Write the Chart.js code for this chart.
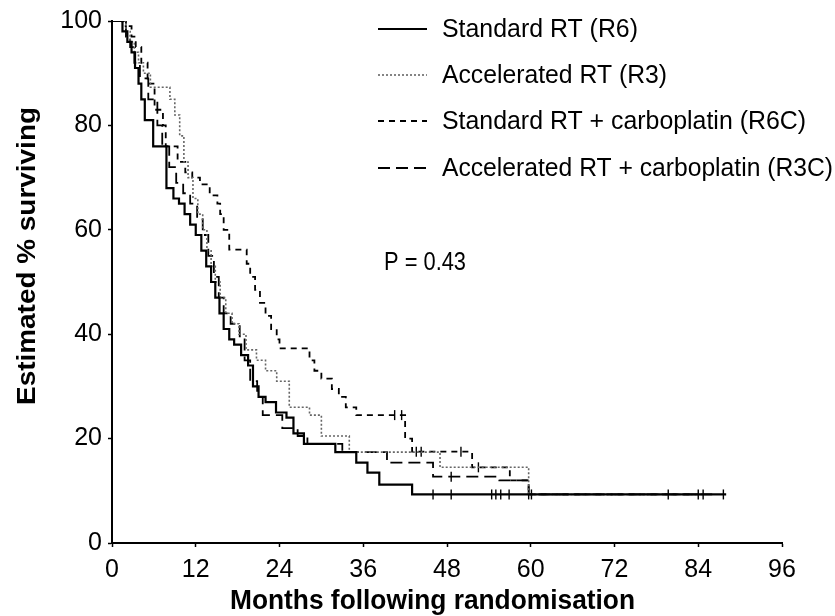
<!DOCTYPE html>
<html>
<head>
<meta charset="utf-8">
<script src="https://cdn.jsdelivr.net/npm/chart.js@4.4.1/dist/chart.umd.min.js"></script>
<style>
  body { margin: 0; background: #fff; }
  canvas { display: block; }
</style>
</head>
<body>
<canvas id="myChart" width="835" height="616"></canvas>
<script>
// Kaplan-Meier steps: [month, % surviving after the drop]
var r6Steps = [[0,100],[1.5,98],[2.2,96],[2.8,94],[3.3,91],[3.8,88],[4.2,85],[4.7,81],[5.9,76],[7.8,68],[8.8,66],[9.6,65],[10.4,63],[11.2,61],[12,59],[12.8,56],[13.5,53],[14.2,50],[14.8,47],[15.4,44],[16,41],[16.8,39],[17.5,38],[18.5,36],[19.5,34],[20.2,30],[21,28],[22,27],[23.5,25],[25,24],[26,21],[27.5,19],[32,17.4],[35,15.4],[36.6,13.5],[38.3,11.2],[43,9.3],[88,9.3]];
var r3Steps = [[0,100],[2,98],[2.6,96],[3.2,94],[3.8,92],[4.5,90],[5.5,87.3],[8.3,85],[9,82],[9.7,78],[10.3,73],[10.9,70],[11.6,66],[12.3,63],[13,60],[13.6,56],[14.2,53],[14.8,50],[15.5,47],[16.3,44],[17.2,42],[18.2,40],[19.2,37],[20.7,35],[22,33],[23.6,31],[25.4,26],[28.3,24.5],[30,20.5],[34,17.4],[47,14.5],[59.7,9.3],[84.7,9.3]];
var r6cSteps = [[0,100],[2,99],[2.8,97],[3.4,95],[4.2,92],[5.1,88],[6.1,83],[7.3,80],[7.7,76],[9.4,73],[10.5,71],[11.5,70],[12.6,68.7],[14,66.6],[15.1,65],[15.5,63],[16,60],[16.8,56.2],[19.3,53.5],[19.8,51],[20.5,48.5],[21.2,46],[22,43.5],[22.8,41],[23.6,39],[24,37.3],[28.3,35],[29,33],[30,31.5],[31.5,29.5],[32.5,28],[33.5,26],[35,24.5],[42,20],[43,17.5],[51.6,14.5],[57,12],[59.7,9.3],[84,9.3]];
var r3cSteps = [[0,100],[1.5,99],[2,97],[2.6,95],[3.2,92],[4,89],[5.2,85],[6.5,80],[7.2,76],[8.2,72],[9.2,69],[10.2,67],[11.2,65],[12.2,62],[13,59],[13.8,55],[14.6,51],[15.3,47],[16,44],[17,42],[18.3,39.6],[19,35],[19.8,31],[20.8,28],[21.6,24.5],[24.4,22],[26.6,20.5],[28,19],[33,17.4],[39.4,15.4],[46,12.7],[55.5,12],[59.7,9.3],[86,9.3]];

// censored observations: [month, %]
var r6Censor = [[46,9.3],[48.6,9.3],[54.4,9.3],[55,9.3],[55.7,9.3],[56.9,9.3],[87.6,9.3]];
var r3Censor = [[50,17.5],[60.1,9.3],[84.7,9.3]];
var r6cCensor = [[40.5,24.5],[41.5,24.5],[43.6,17.5],[44.3,17.5],[52.5,14.5],[79.7,9.3],[84,9.3]];
var r3cCensor = [[48.6,12.7],[59.7,9.3]];

var seriesNames = ['Standard RT (R6)', 'Accelerated RT (R3)', 'Standard RT + carboplatin (R6C)', 'Accelerated RT + carboplatin (R3C)'];
var xTicks = [0, 12, 24, 36, 48, 60, 72, 84, 96];
var yTicks = [0, 20, 40, 60, 80, 100];
var pValueText = 'P = 0.43';

var styles = [
    { color: '#000', width: 2.2, dash: [] },
    { color: '#666', width: 1.6, dash: [2, 2] },
    { color: '#000', width: 1.8, dash: [6, 5] },
    { color: '#000', width: 1.8, dash: [12, 6] }
];

function toPoints(arr) {
    return arr.map(function(p) { return { x: p[0], y: p[1] }; });
}

function stepSet(name, steps, st) {
    return {
        label: name,
        data: toPoints(steps),
        borderColor: st.color,
        borderWidth: st.width,
        borderDash: st.dash,
        stepped: true,
        pointRadius: 0,
        fill: false
    };
}

function censorSet(name, pts) {
    return {
        label: name + ' censored',
        data: toPoints(pts),
        showLine: false,
        pointStyle: 'line',
        rotation: 90,
        pointRadius: 5,
        borderColor: '#000',
        borderWidth: 1.4,
        pointHoverRadius: 5
    };
}

// draws text squeezed/stretched to a given width
function fitText(ctx, text, x, y, w) {
    var m = ctx.measureText(text).width;
    ctx.save();
    ctx.translate(x, y);
    ctx.scale(w / m, 1);
    ctx.fillText(text, 0, 0);
    ctx.restore();
}

var extras = {
    id: 'extras',
    afterDraw: function(chart) {
        var ctx = chart.ctx;
        ctx.save();
        ctx.fillStyle = '#000';
        ctx.textBaseline = 'middle';
        ctx.textAlign = 'left';

        // legend
        var rowY = [29, 75, 121, 168];
        var textW = [196, 225, 364, 391];
        for (var i = 0; i < seriesNames.length; i++) {
            ctx.beginPath();
            ctx.strokeStyle = styles[i].color;
            ctx.lineWidth = styles[i].width;
            ctx.setLineDash(styles[i].dash);
            ctx.moveTo(378, rowY[i]);
            ctx.lineTo(427, rowY[i]);
            ctx.stroke();
            ctx.setLineDash([]);
            ctx.font = '26px "Liberation Sans Narrow", "Liberation Sans", Arial, sans-serif';
            fitText(ctx, seriesNames[i], 442, rowY[i] + 1, textW[i]);
        }

        // p value
        ctx.font = '26px "Liberation Sans Narrow", "Liberation Sans", Arial, sans-serif';
        fitText(ctx, pValueText, 384, 263, 82);

        // axis titles
        ctx.font = 'bold 28px "Liberation Sans Narrow", "Liberation Sans", Arial, sans-serif';
        ctx.textBaseline = 'alphabetic';
        fitText(ctx, 'Months following randomisation', 230, 609, 405);

        ctx.font = 'bold 26px "Liberation Sans", Arial, sans-serif';
        ctx.textBaseline = 'middle';
        ctx.save();
        ctx.translate(28, 256);
        ctx.rotate(-Math.PI / 2);
        ctx.textAlign = 'center';
        var t = 'Estimated % surviving';
        var m = ctx.measureText(t).width;
        ctx.scale(298 / m, 1);
        ctx.fillText(t, 0, 0);
        ctx.restore();

        ctx.restore();
    }
};

window.onload = function() {
    var ctx = document.getElementById('myChart').getContext('2d');

    var datasets = [
        stepSet(seriesNames[0], r6Steps, styles[0]),
        stepSet(seriesNames[1], r3Steps, styles[1]),
        stepSet(seriesNames[2], r6cSteps, styles[2]),
        stepSet(seriesNames[3], r3cSteps, styles[3]),
        censorSet(seriesNames[0], r6Censor),
        censorSet(seriesNames[1], r3Censor),
        censorSet(seriesNames[2], r6cCensor),
        censorSet(seriesNames[3], r3cCensor)
    ];

    var tickFont = { family: '"Liberation Sans Narrow", "Liberation Sans", Arial, sans-serif', size: 25 };

    var myChart = new Chart(ctx, {
        type: 'line',
        data: { datasets: datasets },
        options: {
            responsive: false,
            animation: false,
            devicePixelRatio: 1,
            layout: { padding: { top: 21, right: 53, bottom: 0, left: 0 } },
            scales: {
                x: {
                    type: 'linear',
                    min: 0,
                    max: 96,
                    afterFit: function(scale) { scale.height = 73; },
                    afterBuildTicks: function(scale) {
                        scale.ticks = xTicks.map(function(v) { return { value: v }; });
                    },
                    border: { color: '#000', width: 2 },
                    grid: { drawOnChartArea: false, drawTicks: true, tickLength: 4, color: '#000', tickWidth: 1.5 },
                    ticks: { color: '#000', font: tickFont, padding: 8, maxRotation: 0, autoSkip: false }
                },
                y: {
                    min: 0,
                    max: 100,
                    afterFit: function(scale) { scale.width = 112; },
                    afterBuildTicks: function(scale) {
                        scale.ticks = yTicks.map(function(v) { return { value: v }; });
                    },
                    border: { color: '#000', width: 2 },
                    grid: { drawOnChartArea: false, drawTicks: true, tickLength: 4, color: '#000', tickWidth: 1.5 },
                    ticks: { color: '#000', font: tickFont, padding: 6 }
                }
            },
            plugins: {
                legend: { display: false },
                tooltip: { enabled: false }
            }
        },
        plugins: [extras]
    });
};
</script>
</body>
</html>
